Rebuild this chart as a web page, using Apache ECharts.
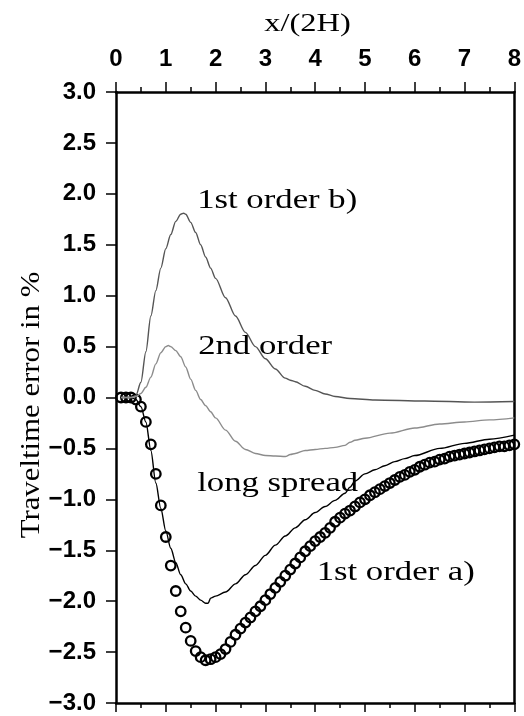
<!DOCTYPE html>
<html><head><meta charset="utf-8">
<script src="https://cdn.jsdelivr.net/npm/echarts@6/dist/echarts.min.js"></script>
<style>html,body{margin:0;padding:0;background:#fff}#c{width:524px;height:716px}</style>
</head><body><div id="c"></div>
<script>
// ---- data ----
const xTickLabels = ['0','1','2','3','4','5','6','7','8'];
const xTitle = 'x/(2H)';
const yTitle = 'Traveltime error in %';

// 1st order a) : circles
const firstOrderA = [
 [0.1,0],[0.2,0],[0.3,0],[0.4,-0.02],[0.5,-0.09],[0.6,-0.24],[0.7,-0.46],[0.8,-0.75],[0.9,-1.06],[1.0,-1.37],
 [1.1,-1.65],[1.2,-1.90],[1.3,-2.10],[1.4,-2.26],[1.5,-2.39],[1.6,-2.49],[1.7,-2.55],[1.8,-2.58],[1.9,-2.57],[2.0,-2.55],
 [2.1,-2.52],[2.2,-2.47],[2.3,-2.40],[2.4,-2.33],[2.5,-2.27],[2.6,-2.21],[2.7,-2.16],[2.8,-2.10],[2.9,-2.05],[3.0,-1.99],
 [3.1,-1.93],[3.2,-1.87],[3.3,-1.81],[3.4,-1.75],[3.5,-1.69],[3.6,-1.63],[3.7,-1.57],[3.8,-1.51],[3.9,-1.46],[4.0,-1.41],
 [4.1,-1.37],[4.2,-1.33],[4.3,-1.28],[4.4,-1.22],[4.5,-1.18],[4.6,-1.14],[4.7,-1.11],[4.8,-1.07],[4.9,-1.03],[5.0,-1.00],
 [5.1,-0.96],[5.2,-0.93],[5.3,-0.90],[5.4,-0.87],[5.5,-0.84],[5.6,-0.81],[5.7,-0.78],[5.8,-0.76],[5.9,-0.73],[6.0,-0.71],
 [6.1,-0.68],[6.2,-0.66],[6.3,-0.64],[6.4,-0.63],[6.5,-0.61],[6.6,-0.60],[6.7,-0.58],[6.8,-0.57],[6.9,-0.56],[7.0,-0.55],
 [7.1,-0.54],[7.2,-0.53],[7.3,-0.52],[7.4,-0.51],[7.5,-0.50],[7.6,-0.49],[7.7,-0.48],[7.8,-0.48],[7.9,-0.47],[8.0,-0.46]
];

// long spread : black line
const longSpread = [
 [0.1,0],[0.3,0],[0.4,-0.02],[0.5,-0.09],[0.6,-0.24],[0.7,-0.52],[0.8,-0.84],[0.9,-1.09],[1.0,-1.31],[1.1,-1.48],
 [1.2,-1.62],[1.3,-1.74],[1.4,-1.83],[1.5,-1.90],[1.6,-1.95],[1.7,-1.99],[1.8,-2.02],[1.85,-2.02],[1.9,-1.97],[2.0,-1.95],
 [2.2,-1.91],[2.4,-1.83],[2.6,-1.74],[2.8,-1.65],[3.0,-1.55],[3.2,-1.45],[3.4,-1.36],[3.6,-1.28],[3.8,-1.20],[4.0,-1.13],
 [4.2,-1.07],[4.4,-1.01],[4.6,-0.94],[4.7,-0.88],[4.8,-0.82],[5.0,-0.75],[5.2,-0.71],[5.4,-0.67],[5.6,-0.63],[5.8,-0.60],
 [6.0,-0.57],[6.5,-0.50],[7.0,-0.45],[7.5,-0.41],[8.0,-0.37]
];

// 1st order b) : dark grey line
const firstOrderB = [
 [0.1,0],[0.3,0],[0.4,0.02],[0.5,0.15],[0.6,0.45],[0.7,0.80],[0.8,1.05],[0.9,1.27],[1.0,1.46],[1.1,1.60],
 [1.2,1.73],[1.3,1.80],[1.36,1.81],[1.4,1.80],[1.5,1.72],[1.6,1.62],[1.7,1.50],[1.8,1.38],[1.9,1.27],[2.0,1.17],
 [2.2,0.98],[2.4,0.80],[2.6,0.64],[2.8,0.50],[3.0,0.38],[3.2,0.28],[3.4,0.19],[3.5,0.17],[3.6,0.155],[3.8,0.11],
 [4.0,0.07],[4.2,0.035],[4.4,0.01],[4.7,-0.01],[5.2,-0.025],[6.2,-0.035],[7.2,-0.045],[8.0,-0.04]
];

// 2nd order : light grey line
const secondOrder = [
 [0.1,0],[0.3,0],[0.4,0.01],[0.5,0.04],[0.6,0.10],[0.7,0.20],[0.8,0.33],[0.9,0.44],[1.0,0.50],[1.05,0.51],
 [1.1,0.50],[1.2,0.46],[1.3,0.40],[1.4,0.30],[1.5,0.18],[1.6,0.07],[1.7,-0.02],[1.8,-0.08],[1.9,-0.14],[2.0,-0.20],
 [2.2,-0.32],[2.4,-0.43],[2.6,-0.51],[2.8,-0.55],[3.0,-0.57],[3.2,-0.575],[3.4,-0.58],[3.5,-0.56],[3.6,-0.55],[3.8,-0.52],
 [4.0,-0.51],[4.2,-0.50],[4.4,-0.49],[4.6,-0.47],[4.7,-0.44],[4.8,-0.42],[5.0,-0.40],[5.5,-0.35],[6.0,-0.30],[6.5,-0.26],
 [7.0,-0.24],[7.5,-0.22],[8.0,-0.20]
];

// annotation texts and their anchor points (data coordinates, left edge / vertical centre)
const labelTexts = ['1st order b)','2nd order','long spread','1st order a)'];
const labelAnchors = [[1.63,1.93],[1.65,0.50],[1.63,-0.85],[4.03,-1.72]];

// ---- chart ----
const chart = echarts.init(document.getElementById('c'), null, {renderer:'canvas'});
const axisLineStyle = {color:'#000', width:2.5};
const tickFont = {fontFamily:'Liberation Sans', fontWeight:'bold', fontSize:24, color:'#000'};
const fmtY = v => { const s = Math.abs(v).toFixed(1); return v < 0 ? '\u2212' + s : s; };

const option = {
  animation:false,
  backgroundColor:'#fff',
  grid:{left:116, right:1.5, top:92, bottom:13, containLabel:false},
  xAxis:[
    {type:'value', position:'top', min:0, max:8, interval:1,
     axisLine:{show:true, onZero:false, lineStyle:axisLineStyle},
     axisTick:{show:true, inside:false, length:10, lineStyle:{color:'#000', width:1.5}},
     minorTick:{show:true, splitNumber:2, length:5, lineStyle:{color:'#000', width:1.5}},
     axisLabel:Object.assign({margin:21, formatter:v => xTickLabels[Math.round(v)] || ''}, tickFont),
     splitLine:{show:false}, minorSplitLine:{show:false}},
    {type:'value', position:'bottom', min:0, max:8, interval:1,
     axisLine:{show:true, onZero:false, lineStyle:axisLineStyle},
     axisTick:{show:true, inside:false, length:9, lineStyle:{color:'#000', width:1.5}},
     minorTick:{show:true, splitNumber:2, length:5, lineStyle:{color:'#000', width:1.5}},
     axisLabel:{show:false}, splitLine:{show:false}}
  ],
  yAxis:[
    {type:'value', position:'left', min:-3, max:3, interval:0.5,
     axisLine:{show:true, onZero:false, lineStyle:axisLineStyle},
     axisTick:{show:true, inside:false, length:10, lineStyle:{color:'#000', width:1.5}},
     axisLabel:Object.assign({margin:20, formatter:fmtY}, tickFont),
     splitLine:{show:false}},
    {type:'value', position:'right', min:-3, max:3, interval:0.5,
     axisLine:{show:true, onZero:false, lineStyle:axisLineStyle},
     axisTick:{show:false}, axisLabel:{show:false}, splitLine:{show:false}}
  ],
  series:[
    {name:'1st order a)', type:'scatter', data:firstOrderA, symbol:'circle', symbolSize:9.5,
     itemStyle:{color:'rgba(255,255,255,0)', borderColor:'#000', borderWidth:2.3, opacity:1}, z:2},
    {name:'long spread', type:'line', data:longSpread, showSymbol:false, smooth:0.3, smoothMonotone:'x',
     lineStyle:{color:'#000', width:1.4}, z:3},
    {name:'1st order b)', type:'line', data:firstOrderB, showSymbol:false, smooth:0.3, smoothMonotone:'x',
     lineStyle:{color:'#555', width:1.4}, z:3},
    {name:'2nd order', type:'line', data:secondOrder, showSymbol:false, smooth:0.3, smoothMonotone:'x',
     lineStyle:{color:'#8c8c8c', width:1.4}, z:3}
  ]
};
chart.setOption(option);

const serif = 'Liberation Serif';
const graphics = [
  {type:'text', x:307.5, y:24, scaleX:1.25, z:10,
   style:{text:xTitle, font:'26px "' + serif + '"', fill:'#000', textAlign:'center', textVerticalAlign:'middle'}},
  {type:'text', x:32, y:405, rotation:Math.PI/2, scaleX:1.1, z:10,
   style:{text:yTitle, font:'28px "' + serif + '"', fill:'#000', textAlign:'center', textVerticalAlign:'middle'}}
];
labelTexts.forEach((t, i) => {
  const p = chart.convertToPixel({xAxisIndex:0, yAxisIndex:0}, labelAnchors[i]);
  graphics.push({type:'text', x:p[0], y:p[1], scaleX:1.24, z:10,
    style:{text:t, font:'28px "' + serif + '"', fill:'#000', textAlign:'left', textVerticalAlign:'middle'}});
});
chart.setOption({graphic:graphics});
</script></body></html>
